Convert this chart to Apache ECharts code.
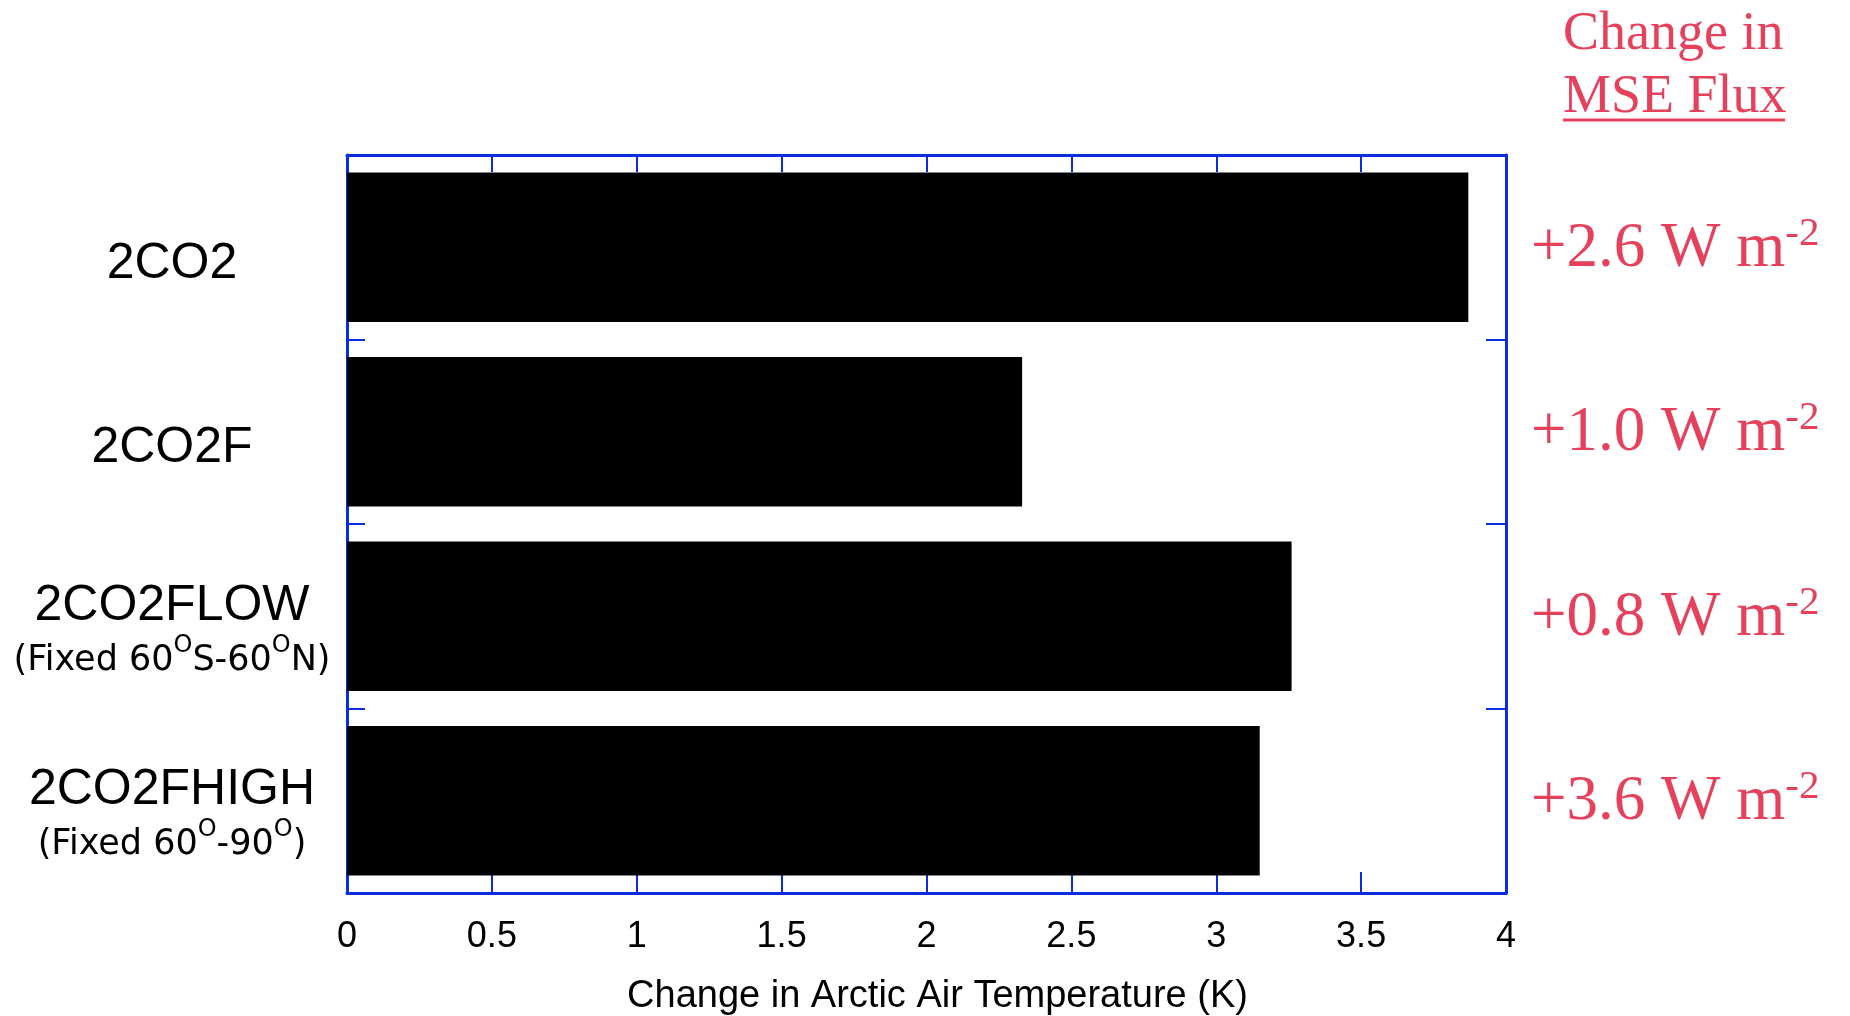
<!DOCTYPE html>
<html><head><meta charset="utf-8">
<script src="https://cdn.jsdelivr.net/npm/echarts@6/dist/echarts.min.js"></script>
<style>html,body{margin:0;padding:0;background:#fff}#c{width:1850px;height:1016px}</style>
</head><body><div id="c"></div>
<script>
// ---- data ----
const categories = ['2CO2', '2CO2F', '2CO2FLOW', '2CO2FHIGH'];
const subLabelParts = [null, null, ['(Fixed 60', 'S-60', 'N)'], ['(Fixed 60', '-90', ')']];
const tempChange = [3.87, 2.33, 3.26, 3.15];
const fluxChange = ['+2.6', '+1.0', '+0.8', '+3.6'];
const fluxUnit = ' W m';
const fluxExp = '-2';
const xMin = 0, xMax = 4, xStep = 0.5;
const xTitle = 'Change in Arctic Air Temperature (K)';
const cornerTitle = 'Change in\nMSE Flux';

// ---- styles ----
const BLUE = '#0b2de2';
const RED = '#e6405c';
const axisLine = {show: true, onZero: false, lineStyle: {color: BLUE, width: 3}};

const chart = echarts.init(document.getElementById('c'), null, {renderer: 'canvas'});
chart.setOption({
  animation: false,
  backgroundColor: '#fff',
  title: {
    text: cornerTitle, left: 1563, top: 3, padding: 0,
    textStyle: {fontFamily: 'Liberation Serif', fontSize: 54, fontWeight: 'normal', color: RED, lineHeight: 63}
  },
  graphic: [{
    type: 'line', shape: {x1: 1563, y1: 120, x2: 1785, y2: 120},
    style: {stroke: RED, lineWidth: 3}
  }],
  grid: {left: 347, right: 344, top: 155, bottom: 123, containLabel: false, outerBoundsMode: 'none'},
  xAxis: [{
    type: 'value', min: xMin, max: xMax, interval: xStep, position: 'bottom',
    axisLine: axisLine,
    axisTick: {show: true, inside: true, length: 21, lineStyle: {color: BLUE, width: 2}},
    splitLine: {show: false},
    axisLabel: {fontFamily: 'Liberation Sans', fontSize: 36, color: '#000', margin: 26},
    name: xTitle, nameLocation: 'middle', nameGap: 85,
    nameTextStyle: {fontFamily: 'Liberation Sans', fontSize: 38, color: '#000', padding: [0, 0, 0, 22]}
  }, {
    type: 'value', min: xMin, max: xMax, interval: xStep, position: 'top',
    axisLine: axisLine,
    axisTick: {show: true, inside: true, length: 17, lineStyle: {color: BLUE, width: 2}},
    splitLine: {show: false},
    axisLabel: {show: false}
  }],
  yAxis: [{
    type: 'category', data: categories, inverse: true, position: 'left',
    axisLine: axisLine,
    axisTick: {show: true, inside: true, length: 18, lineStyle: {color: BLUE, width: 2}},
    splitLine: {show: false},
    axisLabel: {
      interval: 0, margin: 175, align: 'center', color: '#000', padding: [33, 0, 0, 0],
      formatter: function (v, i) {
        const parts = subLabelParts[i];
        let s = '{main|' + v + '}';
        if (parts) {
          s += '\n' + parts.map(p => '{sub|' + p + '}').join('{sup|O}');
        }
        return s;
      },
      rich: {
        main: {fontFamily: 'Liberation Sans', fontSize: 50, lineHeight: 56, color: '#000'},
        sub: {fontFamily: 'DejaVu Sans', fontSize: 35, lineHeight: 54, color: '#000'},
        sup: {fontFamily: 'DejaVu Sans', fontSize: 24, lineHeight: 46, verticalAlign: 'top', color: '#000'}
      }
    }
  }, {
    type: 'category', data: categories, inverse: true, position: 'right',
    axisLine: axisLine,
    axisTick: {show: true, inside: true, length: 20, lineStyle: {color: BLUE, width: 2}},
    splitLine: {show: false},
    axisLabel: {
      interval: 0, margin: 25, align: 'left', padding: [4, 0, 0, 0],
      formatter: function (v, i) {
        return '{v|' + fluxChange[i] + fluxUnit + '}{s|' + fluxExp + '}';
      },
      rich: {
        v: {fontFamily: 'Liberation Serif', fontSize: 63, lineHeight: 72, color: RED},
        s: {fontFamily: 'Liberation Serif', fontSize: 41, lineHeight: 46, verticalAlign: 'top', color: RED}
      }
    }
  }],
  series: [{
    type: 'bar', xAxisIndex: 0, yAxisIndex: 0,
    data: tempChange, barCategoryGap: '19%',
    itemStyle: {color: '#000'}
  }]
});
</script></body></html>
